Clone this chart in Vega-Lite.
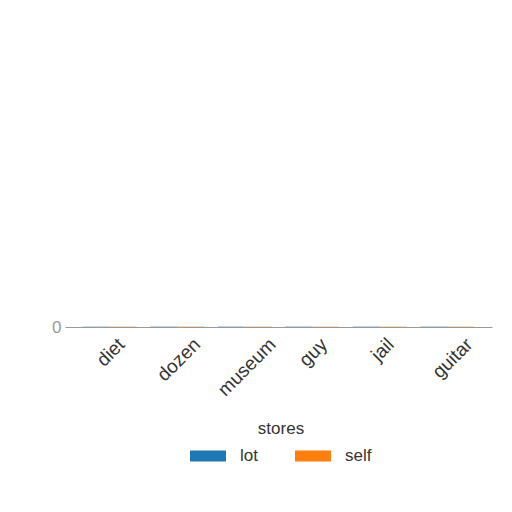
{
  "$schema": "https://vega.github.io/schema/vega-lite/v6.json",
  "width": 427,
  "height": 317,
  "padding": {"left": 51, "top": 10, "right": 5, "bottom": 5},
  "data": {
    "values": [
      {"word": "diet", "stores": "lot", "value": 0.1},
      {"word": "diet", "stores": "self", "value": 0.1},
      {"word": "dozen", "stores": "lot", "value": 0.1},
      {"word": "dozen", "stores": "self", "value": 0.1},
      {"word": "museum", "stores": "lot", "value": 0.1},
      {"word": "museum", "stores": "self", "value": 0.1},
      {"word": "guy", "stores": "lot", "value": 0.1},
      {"word": "guy", "stores": "self", "value": 0.1},
      {"word": "jail", "stores": "lot", "value": 0.1},
      {"word": "jail", "stores": "self", "value": 0.1},
      {"word": "guitar", "stores": "lot", "value": 0.1},
      {"word": "guitar", "stores": "self", "value": 0.1}
    ]
  },
  "mark": {"type": "bar"},
  "encoding": {
    "x": {
      "field": "word",
      "type": "nominal",
      "sort": null,
      "scale": {"paddingInner": 0.2, "paddingOuter": 0.26},
      "axis": {
        "title": null,
        "labelAngle": -45,
        "labelAlign": "right",
        "labelBaseline": "middle",
        "labelPadding": 14,
        "labelFontSize": 19,
        "labelColor": "#333333",
        "ticks": false,
        "domainColor": "#999999",
        "labelOffset": {
          "condition": [
            {"test": "datum.label == 'diet'", "value": 12},
            {"test": "datum.label == 'dozen'", "value": 20},
            {"test": "datum.label == 'museum'", "value": 28},
            {"test": "datum.label == 'guy'", "value": 12},
            {"test": "datum.label == 'jail'", "value": 11},
            {"test": "datum.label == 'guitar'", "value": 22}
          ],
          "value": 0
        }
      }
    },
    "xOffset": {"field": "stores", "type": "nominal"},
    "y": {
      "field": "value",
      "type": "quantitative",
      "scale": {"domain": [0, 100]},
      "axis": {
        "title": null,
        "values": [0],
        "domain": false,
        "ticks": false,
        "grid": false,
        "labelFontSize": 17,
        "labelColor": "#999999",
        "labelPadding": 4
      }
    },
    "color": {
      "field": "stores",
      "type": "nominal",
      "scale": {"domain": ["lot", "self"], "range": ["#1f77b4", "#ff7f0e"]},
      "legend": {
        "orient": "none",
        "legendX": 125,
        "legendY": 411,
        "direction": "horizontal",
        "title": "stores",
        "titleAnchor": "middle",
        "titleFontSize": 17,
        "titleFontWeight": "normal",
        "titleColor": "#333333",
        "titlePadding": 0,
        "labelFontSize": 17,
        "labelColor": "#333333",
        "labelOffset": 14,
        "columnPadding": 37,
        "symbolType": "M-1,-0.3L1,-0.3L1,0.3L-1,0.3Z",
        "symbolSize": 1296,
        "symbolStrokeWidth": 0
      }
    }
  },
  "config": {
    "font": "Liberation Sans",
    "view": {"stroke": null},
    "axis": {"grid": false}
  }
}
